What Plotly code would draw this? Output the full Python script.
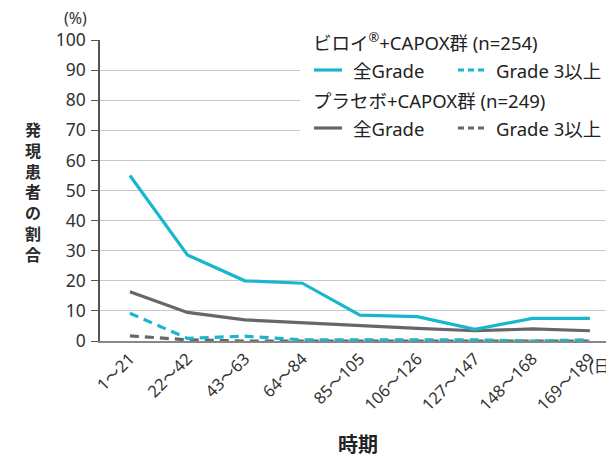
import plotly.graph_objects as go

periods = ["1〜21", "22〜42", "43〜63", "64〜84", "85〜105", "106〜126", "127〜147", "148〜168", "169〜189"]
drug_all = [55.0, 28.6, 20.0, 19.2, 8.6, 8.1, 3.9, 7.5, 7.5]
drug_g3 = [9.2, 0.9, 1.6, 0.4, 0.4, 0.4, 0.4, 0.0, 0.4]
plac_all = [16.4, 9.5, 7.0, 6.0, 5.0, 4.2, 3.4, 4.0, 3.4]
plac_g3 = [1.7, 0.4, 0.0, 0.0, 0.0, 0.0, 0.0, 0.0, 0.0]
y_ticks = [0, 10, 20, 30, 40, 50, 60, 70, 80, 90, 100]

BLUE = "#19b7ce"
GRAY = "#67676b"
FONT = "Noto Sans, Noto Sans CJK JP"

OFF = 8  # page body margin
W, H = 614 - OFF, 461 - OFF
L, R, T, B = 100 - OFF, 4, 40 - OFF, 120
pw, ph = W - L - R, H - T - B

def px(x):
    return (x - OFF - L) / pw

def py(y):
    return (H - B - (y - OFF)) / ph

xs = list(range(len(periods)))
fig = go.Figure()
for vals, color, dash in [
    (plac_g3, GRAY, "9px,6px"),
    (drug_g3, BLUE, "9px,6px"),
    (plac_all, GRAY, "solid"),
    (drug_all, BLUE, "solid"),
]:
    fig.add_trace(go.Scatter(x=xs, y=vals, mode="lines",
                             line=dict(color=color, width=3.2, dash=dash),
                             showlegend=False, hoverinfo="skip"))

fig.update_layout(
    width=W, height=H, margin=dict(l=L, r=R, t=T, b=B, autoexpand=False),
    paper_bgcolor="white", plot_bgcolor="white",
    font=dict(family=FONT, color="#333333"),
    showlegend=False,
)
fig.update_xaxes(range=[-0.52, 8.35], tickvals=xs, ticktext=periods, tickangle=-45,
                 tickfont=dict(size=16.5, color="#333333"), showgrid=False, zeroline=False,
                 showline=True, linecolor="#888888", linewidth=1.5, ticks="", automargin=False)
fig.update_yaxes(range=[0, 100], tickvals=y_ticks, tickfont=dict(size=17.5, color="#333333"),
                 showgrid=True, gridcolor="#c8c8cc", gridwidth=1, zeroline=False,
                 showline=True, linecolor="#555555", linewidth=1.5, automargin=False,
                 ticks="outside", ticklen=7, tickcolor="#555555", ticklabelstandoff=2)

shapes = []
shapes.append(dict(type="rect", xref="paper", yref="paper", x0=px(300), x1=1.01,
                   y0=py(150), y1=py(25), fillcolor="white", line=dict(width=0), layer="above"))
ann = []
def text(x, y, s, size=18, anchor="left", bold=False, color="#222222", h=None):
    d = dict(x=px(x), y=py(y), xref="paper", yref="paper", text=(f"<b>{s}</b>" if bold else s),
             showarrow=False, xanchor=anchor, yanchor="middle",
             font=dict(size=size, color=color, family=FONT))
    if h:
        d["height"] = h
    ann.append(d)

legend_rows = [
    ("ビロイ<sup>®</sup>+CAPOX群 (n=254)", BLUE, 41, 70),
    ("プラセボ+CAPOX群 (n=249)", GRAY, 100, 128),
]
for title, color, ty, ly in legend_rows:
    text(311, ty, title, size=18.5)
    shapes.append(dict(type="line", xref="paper", yref="paper", x0=px(314), x1=px(342), y0=py(ly), y1=py(ly),
                       line=dict(color=color, width=3.2), layer="above"))
    text(351, ly, "全Grade", size=18.5)
    shapes.append(dict(type="line", xref="paper", yref="paper", x0=px(458), x1=px(484), y0=py(ly), y1=py(ly),
                       line=dict(color=color, width=3.2, dash="6px,4px"), layer="above"))
    text(494, ly, "Grade 3以上", size=18.5)

text(75, 18, "(%)", size=16, anchor="center", color="#333333", h=18)
text(587, 366, "(日)", size=16, color="#333333")
text(358, 444, "時期", size=20, anchor="center", bold=True, h=24)
ytitle = "発現患者の割合"
text(33, 192, "<br>".join(ytitle), size=16, anchor="center", bold=True, color="#2a2a2a")

fig.update_layout(shapes=shapes, annotations=ann)
fig.write_html("out.html")
